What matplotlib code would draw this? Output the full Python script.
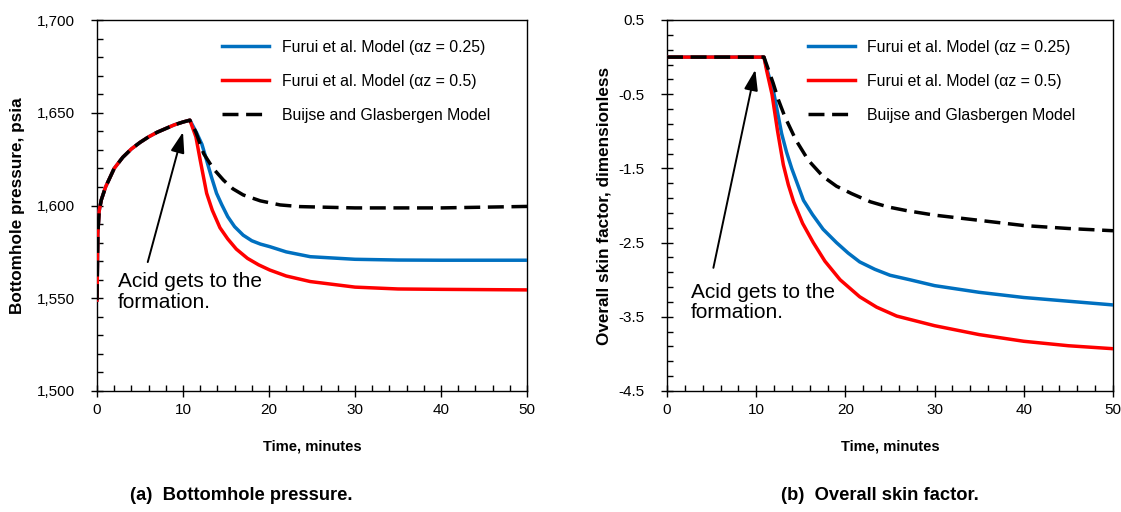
import matplotlib
matplotlib.use("Agg")
import matplotlib.pyplot as plt
from matplotlib.ticker import MultipleLocator, FuncFormatter

plt.rcParams['font.family'] = ['Liberation Sans', 'DejaVu Sans']

# ---------------- data ----------------
# (a) bottomhole pressure, shared build-up before acid arrives
t_rise = [0, 0.1, 0.25, 0.5, 1, 1.5, 2, 3, 4, 5, 6, 7, 8, 9, 10, 10.8]
p_rise = [1549, 1585, 1597, 1603, 1610, 1615, 1620, 1626, 1630.5, 1634, 1637, 1639.5, 1641.5, 1643.5, 1645, 1646]

t_fall_025 = [10.8, 11.6, 12.2, 12.74, 13.3, 13.9, 14.5, 15.2, 16.0, 17.0, 18.0, 19.0, 20.1, 22.0, 24.8, 30, 35, 40, 50]
p_furui_025 = [1646, 1639, 1633, 1624.5, 1615.5, 1606.6, 1600.5, 1594, 1588.6, 1584, 1581, 1579.2, 1577.8, 1575, 1572.4, 1571, 1570.6, 1570.5, 1570.5]
t_fall_05 = [10.8, 11.5, 12.0, 12.75, 13.4, 14.3, 15.2, 16.2, 17.5, 18.8, 20.1, 22.0, 24.8, 30, 35, 40, 50]
p_furui_05 = [1646, 1637, 1624.5, 1606.6, 1597.5, 1588.0, 1582.0, 1576.5, 1571.5, 1568, 1565.2, 1562, 1559, 1556, 1555, 1554.8, 1554.5]
t_fall_bg = [10.8, 11.5, 12.4, 13.5, 14.7, 15.8, 17.0, 19.0, 21.3, 23.6, 30, 40, 50]
p_bg = [1646, 1639.5, 1628, 1620, 1613.7, 1609, 1605.7, 1602.5, 1600.3, 1599.4, 1598.7, 1598.7, 1599.5]

# (b) overall skin factor
t_flat = [0, 10.87]
s_flat = [0, 0]
t_skin_025 = [10.87, 11.25, 12.0, 12.85, 13.4, 13.98, 15.3, 16.3, 17.5, 19.0, 20.3, 21.6, 23.3, 25, 27.2, 30, 35, 40, 45, 50]
s_furui_025 = [0, -0.18, -0.50, -1.03, -1.28, -1.50, -1.93, -2.12, -2.32, -2.50, -2.64, -2.76, -2.86, -2.94, -3.00, -3.08, -3.17, -3.24, -3.29, -3.34]
t_skin_05 = [10.87, 11.17, 11.77, 12.4, 13.04, 13.6, 14.2, 15.2, 16.4, 17.7, 19.4, 21.6, 23.5, 25.75, 30, 35, 40, 45, 50]
s_furui_05 = [0, -0.18, -0.50, -1.00, -1.45, -1.72, -1.95, -2.24, -2.50, -2.75, -3.00, -3.23, -3.37, -3.49, -3.62, -3.74, -3.83, -3.89, -3.93]
t_skin_bg = [10.87, 11.9, 12.5, 13.2, 14.46, 15.84, 17.5, 19.0, 20.7, 22.8, 24.8, 26.9, 30, 35, 40, 45, 50]
s_bg = [0, -0.35, -0.58, -0.80, -1.12, -1.39, -1.61, -1.74, -1.84, -1.95, -2.02, -2.07, -2.13, -2.20, -2.27, -2.31, -2.34]

labels = ["Furui et al. Model (\u03b1z = 0.25)", "Furui et al. Model (\u03b1z = 0.5)", "Buijse and Glasbergen Model"]
captions = ["(a)  Bottomhole pressure.", "(b)  Overall skin factor."]
annot_text = "Acid gets to the\nformation."

BLUE = "#0070C0"
RED = "#FF0000"
LW = 2.5
DASH = (4.6, 2.2)

W, H = 1121, 512
fig = plt.figure(figsize=(W / 100, H / 100), dpi=100)
ax1 = fig.add_axes([97 / W, 1 - 391 / H, 430 / W, 371 / H])
ax2 = fig.add_axes([667 / W, 1 - 391 / H, 446 / W, 371 / H])


def style(ax, ypad):
    for s in ax.spines.values():
        s.set_linewidth(1.0)
        s.set_color("black")
    ax.tick_params(which="major", direction="inout", length=8, width=1, labelsize=11,
                   top=False, right=False)
    ax.tick_params(axis="y", which="major", pad=ypad)
    ax.tick_params(axis="x", which="major", pad=5)
    ax.tick_params(which="minor", direction="in", length=4, width=1, top=False, right=False)
    ax.set_xlim(0, 50)
    ax.xaxis.set_major_locator(MultipleLocator(10))
    ax.xaxis.set_minor_locator(MultipleLocator(2))
    ax.set_xlabel("Time, minutes", fontsize=10.6, fontweight="bold", va="top")
    ax.xaxis.set_label_coords(0.5, -0.132)


def leg(ax, handles, x0):
    ax.legend(handles, labels, loc="upper left", bbox_to_anchor=(x0, 0.947), frameon=False,
              fontsize=11.4, handlelength=2.95, handletextpad=0.8, labelspacing=1.2, borderpad=0,
              borderaxespad=0)


ARROW = dict(arrowstyle="-|>,head_length=1.25,head_width=0.42", color="black", lw=1.4,
             shrinkA=0, shrinkB=0)

# ---- (a)
style(ax1, 12)
l1, = ax1.plot(t_rise + t_fall_025[1:], p_rise + p_furui_025[1:], color=BLUE, lw=LW, zorder=3)
l2, = ax1.plot(t_rise + t_fall_05[1:], p_rise + p_furui_05[1:], color=RED, lw=LW, zorder=4)
l3, = ax1.plot(t_rise + t_fall_bg[1:], p_rise + p_bg[1:], color="black", lw=LW, dashes=DASH, zorder=5)
ax1.set_ylim(1500, 1700)
ax1.yaxis.set_major_locator(MultipleLocator(50))
ax1.yaxis.set_minor_locator(MultipleLocator(10))
ax1.yaxis.set_major_formatter(FuncFormatter(lambda v, p: f"{v:,.0f}"))
ax1.set_ylabel("Bottomhole pressure, psia", fontsize=12.3, fontweight="bold", va="center")
ax1.yaxis.set_label_coords(-0.184, 0.5)
leg(ax1, [l1, l2, l3], 0.291)
ax1.annotate("", xy=(10.0, 1639.6), xytext=(5.9, 1569.5), arrowprops=ARROW)
ax1.text(2.4, 1564.3, annot_text, fontsize=15, va="top", ha="left", linespacing=1.12)

# ---- (b)
style(ax2, 12)
m1, = ax2.plot(t_flat + t_skin_025[1:], s_flat + s_furui_025[1:], color=BLUE, lw=LW, zorder=3)
m2, = ax2.plot(t_flat + t_skin_05[1:], s_flat + s_furui_05[1:], color=RED, lw=LW, zorder=4)
m3, = ax2.plot(t_flat + t_skin_bg[1:], s_flat + s_bg[1:], color="black", lw=LW, dashes=DASH, zorder=5)
ax2.set_ylim(-4.5, 0.5)
ax2.yaxis.set_major_locator(MultipleLocator(1, offset=0.5))
ax2.yaxis.set_minor_locator(MultipleLocator(0.2, offset=0.1))
ax2.yaxis.set_major_formatter(FuncFormatter(lambda v, p: f"{v:.1f}"))
ax2.set_ylabel("Overall skin factor, dimensionless", fontsize=12.3, fontweight="bold", va="center")
ax2.yaxis.set_label_coords(-0.141, 0.5)
leg(ax2, [m1, m2, m3], 0.316)
ax2.annotate("", xy=(9.9, -0.17), xytext=(5.2, -2.84), arrowprops=ARROW)
ax2.text(2.7, -3.04, annot_text, fontsize=15, va="top", ha="left", linespacing=1.12)

fig.text(241 / W, 1 - 495 / H, captions[0], fontsize=13.2, fontweight="bold", ha="center", va="center")
fig.text(880 / W, 1 - 495 / H, captions[1], fontsize=13.2, fontweight="bold", ha="center", va="center")

fig.savefig("out.png", dpi=100)
